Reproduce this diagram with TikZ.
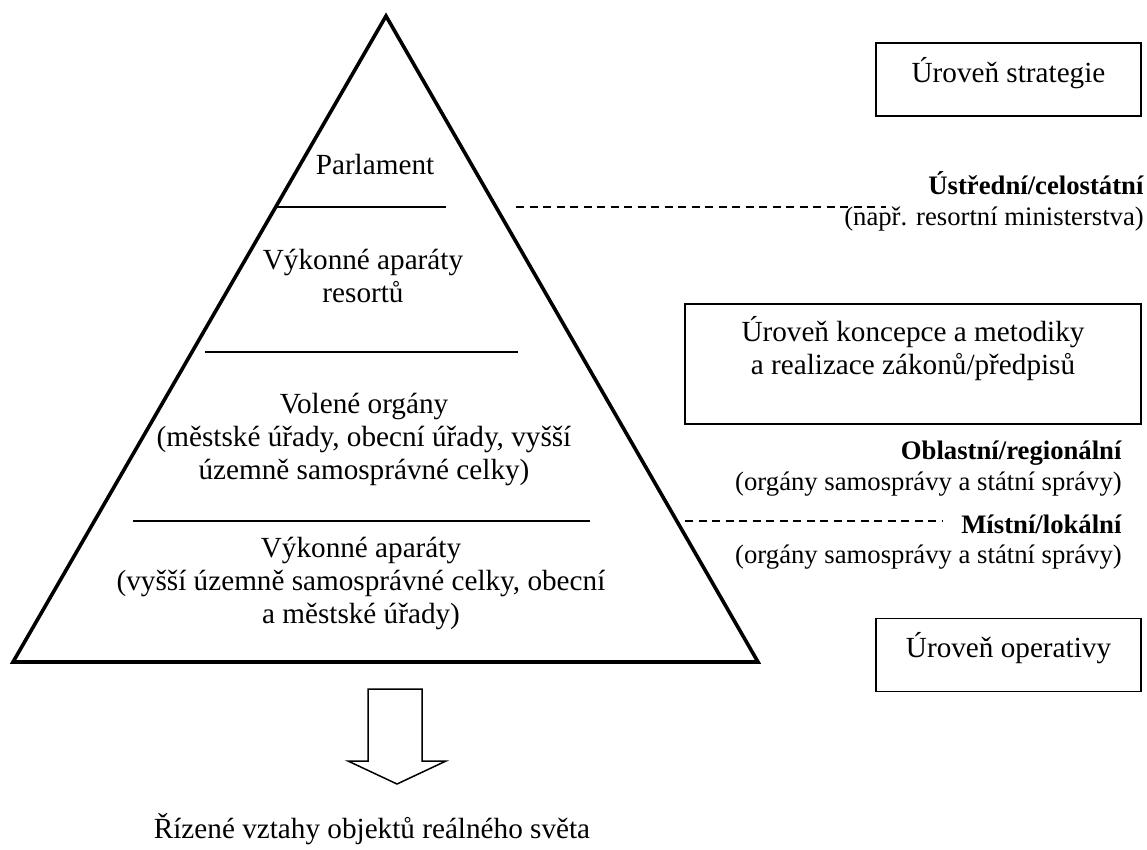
\documentclass[tikz,border=0pt]{standalone}
\usepackage{fontspec}
\setmainfont{Liberation Serif}
\usetikzlibrary{positioning, calc}

\newcommand{\pyrfont}{\fontsize{29.2}{33}\selectfont}
\newcommand{\scopefont}{\fontsize{26.7}{31}\selectfont}

\begin{document}
\begin{tikzpicture}[x=1pt, y=-1pt,
    pyrtext/.style={inner sep=0pt, align=center, font=\pyrfont, anchor=base},
    scopetext/.style={inner sep=0pt, font=\scopefont, anchor=base east},
    levelbox/.style={draw, line width=1.6pt, inner sep=0pt, font=\pyrfont, align=center},
    divider/.style={line width=1.5pt},
    dashline/.style={line width=1.5pt, dash pattern=on 8pt off 5.5pt}]
    \useasboundingbox (0,0) rectangle (1147,849);

    % pyramid
    \coordinate (apex) at (386,16);
    \coordinate (bl) at (13,662);
    \coordinate (br) at (758,662);
    \draw[line width=3.6pt, line join=miter] (apex) -- (bl) -- (br) -- cycle;

    \foreach \n/\y/\xa/\xb in {1/207/276/446, 2/352/205/518, 3/521/133/590} {
        \coordinate (dl\n) at (\xa,\y);
        \coordinate (dr\n) at (\xb,\y);
        \draw[divider] (dl\n) -- (dr\n);
    }

    % base = last line
    \node[pyrtext] (parl) at (375,174) {Parlament};
    \node[pyrtext] (resort) at (363,302) {Výkonné aparáty\\resortů};
    \node[pyrtext] (volene) at (364,479) {Volené orgány\\(městské úřady, obecní úřady, vyšší\\územně samosprávné celky)};
    \node[pyrtext] (vykon) at (361,623) {Výkonné aparáty\\(vyšší územně samosprávné celky, obecní\\a městské úřady)};

    % levels on the right
    \node[levelbox, minimum width=265, text height=39.6, text depth=33.4] (strat) at (1008.5,79.6) {Úroveň strategie};
    \node[levelbox, minimum width=456.5, minimum height=120] (konc) at (913,364) {};
    \node[pyrtext] (konctext) at (913,374) {Úroveň koncepce a metodiky\\a realizace zákonů/předpisů};
    \node[levelbox, minimum width=265, text height=39.4, text depth=33.7] (oper) at (1008.5,655) {Úroveň operativy};

    \node[scopetext] (ustr) at (1144,194) {\textbf{Ústřední/celostátní}};
    \node[scopetext] (ustrsub) at (1144,225) {(např. resortní ministerstva)};
    \node[scopetext] (obl) at (1122,459) {\textbf{Oblastní/regionální}};
    \node[scopetext] (oblsub) at (1122,490) {(orgány samosprávy a státní správy)};
    \node[scopetext] (mist) at (1122,533) {\textbf{Místní/lokální}};
    \node[scopetext] (mistsub) at (1122,563) {(orgány samosprávy a státní správy)};

    \coordinate (d1a) at (516,207);
    \coordinate (d1b) at (886,207);
    \draw[dashline] (d1a) -- (d1b);
    \coordinate (d2a) at (685,521);
    \draw[dashline] (d2a) -- ($(mist.west |- d2a)+(-18,0)$);

    % arrow down
    \draw[line width=1.5pt] (368,689) -- (368,761) -- (348,761) -- (397,784)
        -- (446,761) -- (422,761) -- (422,689) -- cycle;
    \node[pyrtext] (result) at (372,838) {Řízené vztahy objektů reálného světa};
\end{tikzpicture}
\end{document}
